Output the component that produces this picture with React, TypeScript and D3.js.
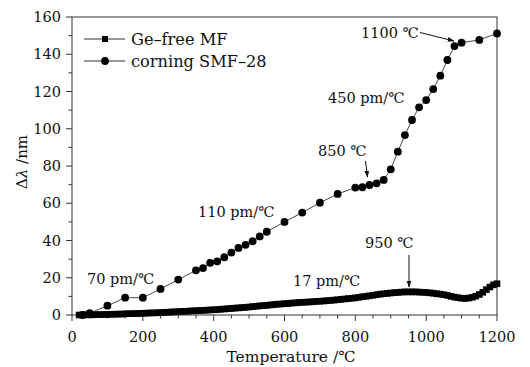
import React from "react";
import * as d3 from "d3";

// Corning SMF-28 (circles)
const smfTemp = [30, 50, 100, 150, 200, 250, 300, 350, 370, 390, 410, 430, 450, 470, 490, 510, 530, 550, 600, 650, 700, 750, 800, 820, 840, 860, 880, 900, 920, 940, 960, 980, 1000, 1020, 1040, 1060, 1080, 1100, 1150, 1200];
const smfShift = [0, 1, 5, 9.3, 9.3, 14, 19, 24, 25.2, 28, 28.8, 31, 33.5, 36, 37.7, 39.6, 42.2, 44.7, 50, 55, 60.3, 65, 68.4, 68.6, 69.8, 70.7, 72.5, 78.2, 87.7, 96.6, 104.7, 111.5, 115.4, 121.3, 128.5, 136.9, 144.4, 146.2, 147.7, 151.2];

// Ge-free MF (squares), every 10 °C from 20 to 1200
const geTemp = [20, 30, 40, 50, 60, 70, 80, 90, 100, 110, 120, 130, 140, 150, 160, 170, 180, 190, 200, 210, 220, 230, 240, 250, 260, 270, 280, 290, 300, 310, 320, 330, 340, 350, 360, 370, 380, 390, 400, 410, 420, 430, 440, 450, 460, 470, 480, 490, 500, 510, 520, 530, 540, 550, 560, 570, 580, 590, 600, 610, 620, 630, 640, 650, 660, 670, 680, 690, 700, 710, 720, 730, 740, 750, 760, 770, 780, 790, 800, 810, 820, 830, 840, 850, 860, 870, 880, 890, 900, 910, 920, 930, 940, 950, 960, 970, 980, 990, 1000, 1010, 1020, 1030, 1040, 1050, 1060, 1070, 1080, 1090, 1100, 1110, 1120, 1130, 1140, 1150, 1160, 1170, 1180, 1190, 1200];
const geShift = [0.0, 0.0, 0.1, 0.1, 0.1, 0.2, 0.2, 0.3, 0.3, 0.4, 0.4, 0.5, 0.5, 0.6, 0.7, 0.7, 0.8, 0.8, 0.9, 1.0, 1.1, 1.1, 1.2, 1.3, 1.4, 1.5, 1.6, 1.7, 1.8, 1.9, 2.0, 2.1, 2.2, 2.3, 2.4, 2.5, 2.6, 2.7, 2.8, 2.9, 3.1, 3.2, 3.4, 3.5, 3.7, 3.8, 4.0, 4.1, 4.3, 4.5, 4.7, 4.9, 5.0, 5.2, 5.4, 5.6, 5.8, 5.9, 6.1, 6.2, 6.4, 6.5, 6.7, 6.8, 6.9, 7.0, 7.1, 7.3, 7.4, 7.5, 7.7, 7.8, 8.0, 8.2, 8.4, 8.6, 8.8, 9.0, 9.2, 9.5, 9.8, 10.0, 10.3, 10.6, 10.9, 11.2, 11.4, 11.6, 11.8, 12.0, 12.1, 12.3, 12.4, 12.4, 12.4, 12.4, 12.3, 12.2, 12.1, 11.9, 11.7, 11.4, 11.2, 10.9, 10.5, 10.0, 9.6, 9.3, 9.0, 8.9, 9.1, 9.5, 10.1, 11.0, 12.2, 13.6, 15.0, 16.2, 16.8];

const xTicks = [0, 200, 400, 600, 800, 1000, 1200];
const xMinor = [100, 300, 500, 700, 900, 1100, 50, 150, 250, 350, 450, 550, 650, 750, 850, 950, 1050, 1150];
const yTicks = [0, 20, 40, 60, 80, 100, 120, 140, 160];
const yMinor = [10, 30, 50, 70, 90, 110, 130, 150];

const seriesNames = ["Ge\u2013free MF", "corning SMF\u201328"];

const W = 530, H = 367;
const font = "'DejaVu Serif', 'Liberation Serif', serif";

export default function App() {
  const x = d3.scaleLinear().domain([0, 1200]).range([72, 497]);
  const y = d3.scaleLinear().domain([0, 160]).range([315, 17]);

  const smfPts = smfTemp.map((t, i) => [x(t), y(smfShift[i])] as [number, number]);
  const gePts = geTemp.map((t, i) => [x(t), y(geShift[i])] as [number, number]);
  const line = d3.line();

  const fs = 14.5;
  const txt = "#111";
  const sq = 6.6;

  return (
    <svg width={W} height={H} style={{ position: "absolute", left: 0, top: 0, background: "#fff" }} fontFamily={font}>
      <defs>
        <marker id="arr" viewBox="0 0 10 10" refX="9" refY="5" markerWidth="7" markerHeight="7" orient="auto" markerUnits="userSpaceOnUse">
          <path d="M0,1.5 L10,5 L0,8.5 Z" fill="#111" />
        </marker>
      </defs>
      {/* frame */}
      <rect x={72} y={17} width={425} height={298} fill="none" stroke="#333" strokeWidth={1} />
      {/* y ticks */}
      {yTicks.map((v) => (
        <g key={"y" + v}>
          <line x1={66} x2={72} y1={y(v)} y2={y(v)} stroke="#333" />
          <text x={61} y={y(v)} dy="0.36em" textAnchor="end" fontSize={fs} fill={txt}>{v}</text>
        </g>
      ))}
      {yMinor.map((v) => (
        <line key={"ym" + v} x1={68.5} x2={72} y1={y(v)} y2={y(v)} stroke="#333" />
      ))}
      {/* x ticks */}
      {xTicks.map((v) => (
        <g key={"x" + v}>
          <line x1={x(v)} x2={x(v)} y1={315} y2={321} stroke="#333" />
          <text x={x(v)} y={342} textAnchor="middle" fontSize={fs} fill={txt}>{v}</text>
        </g>
      ))}
      {xMinor.map((v) => (
        <line key={"xm" + v} x1={x(v)} x2={x(v)} y1={315} y2={318.5} stroke="#333" />
      ))}
      {/* axis titles */}
      <text x={291} y={362} textAnchor="middle" fontSize={15.5} fill={txt}>Temperature /℃</text>
      <text transform={`translate(27,162) rotate(-90)`} textAnchor="middle" fontSize={15} fill={txt}>
        Δ<tspan fontStyle="italic">λ</tspan> /nm
      </text>

      {/* Ge-free series */}
      <path d={line(gePts) || ""} fill="none" stroke="#222" strokeWidth={1} />
      {gePts.map((p, i) => (
        <rect key={"g" + i} x={p[0] - sq / 2} y={p[1] - sq / 2} width={sq} height={sq} fill="#000" />
      ))}
      {/* SMF-28 series */}
      <path d={line(smfPts) || ""} fill="none" stroke="#333" strokeWidth={0.9} />
      {smfPts.map((p, i) => (
        <circle key={"c" + i} cx={p[0]} cy={p[1]} r={3.9} fill="#000" />
      ))}

      {/* legend */}
      <line x1={84} x2={125} y1={39} y2={39} stroke="#333" />
      <rect x={102} y={36} width={6} height={6} fill="#000" />
      <text x={131} y={39} dy="0.36em" fontSize={16.2} fill={txt}>{seriesNames[0]}</text>
      <line x1={84} x2={125} y1={61} y2={61} stroke="#333" />
      <circle cx={105} cy={61} r={3.9} fill="#000" />
      <text x={131} y={61} dy="0.36em" fontSize={16.2} fill={txt}>{seriesNames[1]}</text>

      {/* annotations */}
      <text x={361} y={38} fontSize={fs} fill={txt}>1100 ℃</text>
      <line x1={420} y1={32.5} x2={454} y2={41} stroke="#111" strokeWidth={1} markerEnd="url(#arr)" />
      <text x={328} y={103} fontSize={fs} fill={txt}>450 pm/℃</text>
      <text x={318} y={156} fontSize={fs} fill={txt}>850 ℃</text>
      <line x1={365.5} y1={161} x2={367.5} y2={177} stroke="#111" strokeWidth={1} markerEnd="url(#arr)" />
      <text x={198} y={217} fontSize={fs} fill={txt}>110 pm/℃</text>
      <text x={87} y={284} fontSize={fs} fill={txt}>70 pm/℃</text>
      <text x={365} y={248} fontSize={fs} fill={txt}>950 ℃</text>
      <line x1={409} y1={255} x2={409} y2={287} stroke="#111" strokeWidth={1} markerEnd="url(#arr)" />
      <text x={293} y={286} fontSize={fs} fill={txt}>17 pm/℃</text>
    </svg>
  );
}
